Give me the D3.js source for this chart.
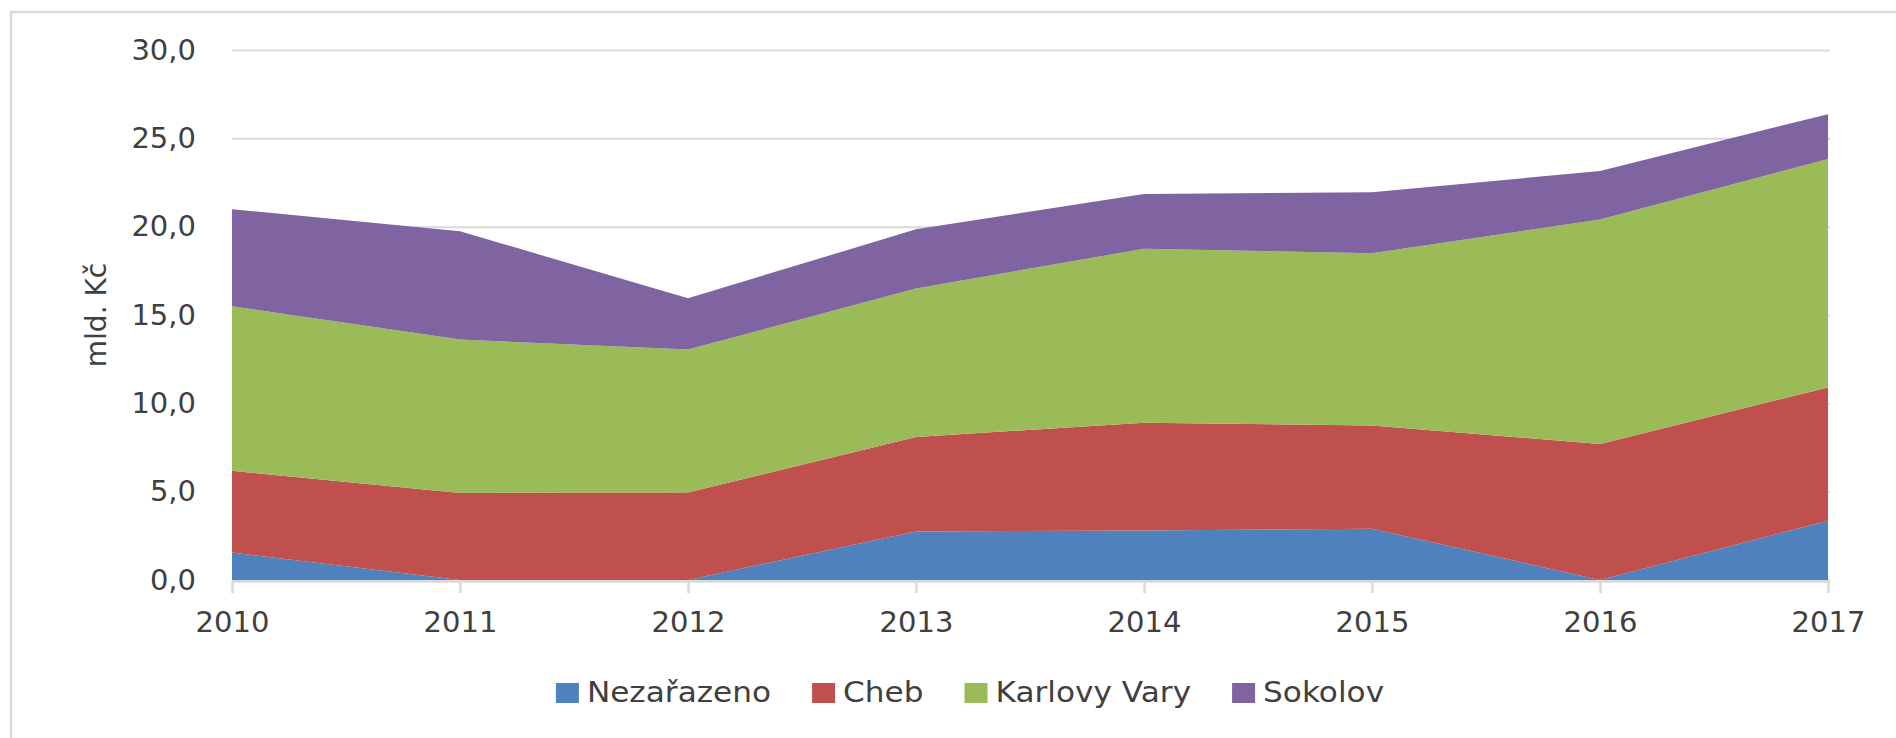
<!DOCTYPE html>
<html>
<head>
<meta charset="utf-8">
<script src="https://cdn.jsdelivr.net/npm/d3@7"></script>
<style>
  body { margin: 0; background: #ffffff; }
  svg text { font-family: "DejaVu Sans", sans-serif; fill: #404040; }
</style>
</head>
<body>
<div id="vis1"></div>
<script>
const FRAME_HEIGHT = 738;
const FRAME_WIDTH = 1896;
const MARGINS = {left: 232, right: 68, top: 50, bottom: 158};

const VIS_HEIGHT = FRAME_HEIGHT - MARGINS.top - MARGINS.bottom;
const VIS_WIDTH = FRAME_WIDTH - MARGINS.left - MARGINS.right;

// data (mld. Kč)
const YEARS = [2010, 2011, 2012, 2013, 2014, 2015, 2016, 2017];
const SERIES = ["Nezařazeno", "Cheb", "Karlovy Vary", "Sokolov"];
const NEZARAZENO = [1.55, 0.0, 0.0, 2.75, 2.8, 2.9, 0.0, 3.35];
const CHEB = [4.63, 4.93, 4.95, 5.35, 6.1, 5.85, 7.7, 7.55];
const KARLOVY_VARY = [9.31, 8.68, 8.1, 8.4, 9.85, 9.75, 12.7, 12.93];
const SOKOLOV = [5.5, 6.13, 2.9, 3.35, 3.1, 3.45, 2.75, 2.54];
const Y_TICKS = [0, 5, 10, 15, 20, 25, 30];
const COLORS = ["#4f81bd", "#c0504d", "#9bbb59", "#8064a2"];

const table = YEARS.map((y, i) => ({
  year: y,
  "Nezařazeno": NEZARAZENO[i],
  "Cheb": CHEB[i],
  "Karlovy Vary": KARLOVY_VARY[i],
  "Sokolov": SOKOLOV[i]
}));

const FRAME1 = d3.select("#vis1")
          .append("svg")
            .attr("height", FRAME_HEIGHT)
            .attr("width", FRAME_WIDTH)
            .attr("class", "frame");

// outer chart border (cut off at right and bottom)
FRAME1.append("rect")
    .attr("x", 11)
    .attr("y", 12)
    .attr("width", FRAME_WIDTH + 20)
    .attr("height", FRAME_HEIGHT + 20)
    .attr("fill", "none")
    .attr("stroke", "#d9d9d9")
    .attr("stroke-width", 2.5);

const X_SCALE = d3.scaleLinear()
          .domain([YEARS[0], YEARS[YEARS.length - 1]])
          .range([0, VIS_WIDTH]);

const Y_SCALE = d3.scaleLinear()
          .domain([0, 30])
          .range([VIS_HEIGHT, 0]);

const colorScale = d3.scaleOrdinal()
          .domain(SERIES)
          .range(COLORS);

const g = FRAME1.append("g")
    .attr("transform", "translate(" + MARGINS.left + "," + MARGINS.top + ")");

// gridlines
g.append("g")
  .call(d3.axisLeft(Y_SCALE).tickValues(Y_TICKS).tickSize(-VIS_WIDTH - 2).tickFormat(""))
  .call(ax => ax.select(".domain").remove())
  .call(ax => ax.selectAll("line").attr("stroke", "#d9d9d9").attr("stroke-width", 2));

// stacked areas
const stacked = d3.stack().keys(SERIES)(table);

const area = d3.area()
  .x(d => X_SCALE(d.data.year))
  .y0(d => Y_SCALE(d[0]))
  .y1(d => Y_SCALE(d[1]));

g.selectAll(".layer")
  .data(stacked)
  .enter()
  .append("path")
    .attr("class", "layer")
    .attr("d", area)
    .attr("fill", d => colorScale(d.key));

// x axis
const xAxis = g.append("g")
  .attr("transform", "translate(0," + (VIS_HEIGHT + 1) + ")")
  .call(d3.axisBottom(X_SCALE).tickValues(YEARS).tickFormat(d3.format("d")).tickSizeOuter(0).tickSizeInner(12).tickPadding(18));
xAxis.select(".domain").attr("stroke", "#d9d9d9").attr("stroke-width", 2.5);
xAxis.selectAll("line").attr("stroke", "#d9d9d9").attr("stroke-width", 2.5);
xAxis.selectAll("text")
  .attr("font-size", "29px")
  .attr("font-family", "DejaVu Sans")
  .attr("fill", "#404040");

// y axis labels
const commaFmt = d => d3.format(".1f")(d).replace(".", ",");
const yAxis = g.append("g")
  .call(d3.axisLeft(Y_SCALE).tickValues(Y_TICKS).tickFormat(commaFmt).tickSize(0).tickPadding(36));
yAxis.select(".domain").remove();
yAxis.selectAll("text")
  .attr("font-size", "29px")
  .attr("font-family", "DejaVu Sans")
  .attr("fill", "#404040");

// y axis title
FRAME1.append("text")
  .attr("transform", "translate(106,315) rotate(-90)")
  .attr("text-anchor", "middle")
  .style("font-size", "28px")
  .text("mld. Kč");

// legend (text a bit wider, like the stretched original)
const LEGEND_STRETCH = 1.075;
const legend = FRAME1.append("g");
let lx = 0;
SERIES.forEach((s, i) => {
  const item = legend.append("g").attr("transform", "translate(" + lx + ",0)");
  item.append("rect")
    .attr("x", 0)
    .attr("y", 683)
    .attr("width", 23)
    .attr("height", 20)
    .attr("fill", colorScale(s));
  const t = item.append("text")
    .attr("transform", "translate(31,702) scale(" + LEGEND_STRETCH + ",1)")
    .style("font-size", "29px")
    .text(s);
  lx += 31 + t.node().getComputedTextLength() * LEGEND_STRETCH + 41;
});
const legendWidth = lx - 41;
legend.attr("transform", "translate(" + (970 - legendWidth / 2) + ",0)");
</script>
</body>
</html>
